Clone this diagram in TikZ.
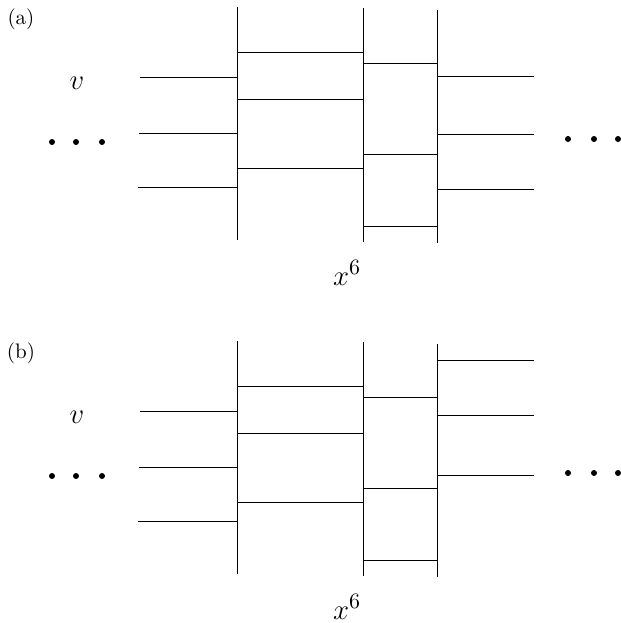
\documentclass[tikz,border=0pt]{standalone}
\tikzset{
  brane/.style={line width=0.5pt},
  dot/.style={circle, fill, inner sep=0pt, minimum size=3pt}
}
\begin{document}
\begin{tikzpicture}[x=0.5pt, y=-0.5pt]
\useasboundingbox (0,0) rectangle (621,623);
\foreach \dy/\lab/\ra/\rb/\rc in {0/a/76/134/189, 334/b/26/81/141} {
\begin{scope}[shift={(0,\dy)}]
\node[font=\fontsize{10.5}{12}\selectfont] (lab-\lab) at (21,19) {(\lab)};
\node[font=\fontsize{15}{17}\selectfont] (v-\lab) at (77,83) {$v$};
\node[font=\fontsize{15}{17}\selectfont] (x-\lab) at (347,273) {$x^6$};
% vertical branes
\draw[brane] (237,7) -- (237,240);
\draw[brane] (363,8) -- (363,242);
\draw[brane] (437,10) -- (437,243);
% horizontal branes
\draw[brane] (140,77) -- (237,77);
\draw[brane] (139,133) -- (237,133);
\draw[brane] (138,187) -- (237,187);
\draw[brane] (237,52) -- (363,52);
\draw[brane] (237,99) -- (363,99);
\draw[brane] (237,168) -- (363,168);
\draw[brane] (363,63) -- (437,63);
\draw[brane] (363,154) -- (437,154);
\draw[brane] (363,226) -- (437,226);
\draw[brane] (437,\ra) -- (534,\ra);
\draw[brane] (437,\rb) -- (534,\rb);
\draw[brane] (437,\rc) -- (534,\rc);
% dots
\foreach \x in {52,76,102} \node[dot] at (\x,142) {};
\foreach \x in {568,594,618} \node[dot] at (\x,139) {};
\end{scope}
}
\end{tikzpicture}
\end{document}
